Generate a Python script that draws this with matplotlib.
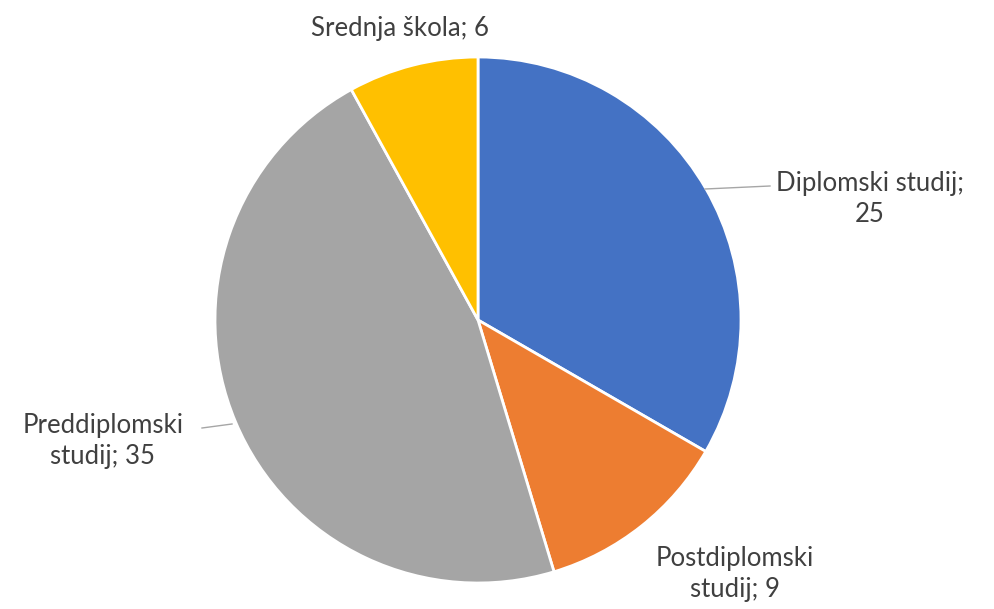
import matplotlib
matplotlib.use("Agg")
import matplotlib.pyplot as plt

categories = ["Diplomski studij", "Postdiplomski studij", "Preddiplomski studij", "Srednja škola"]
values = [25, 9, 35, 6]
label_texts = ["Diplomski studij;\n25", "Postdiplomski\nstudij; 9", "Preddiplomski\nstudij; 35", "Srednja škola; 6"]
colors = ["#4472C4", "#ED7D31", "#A5A5A5", "#FFC000"]

W, H = 995, 609
cx, cy, R = 478, 320, 263

fig = plt.figure(figsize=(W / 100, H / 100), dpi=100)
ax = fig.add_axes([(cx - R) / W, (H - cy - R) / H, 2 * R / W, 2 * R / H])
ax.pie(values, colors=colors, startangle=90, counterclock=False, radius=1,
       wedgeprops=dict(edgecolor="white", linewidth=2))
ax.set_xlim(-1, 1)
ax.set_ylim(-1, 1)
ax.set_aspect("equal")
ax.axis("off")

def d(px, py):
    return ((px - cx) / R, (cy - py) / R)

txt = dict(fontsize=18.5, color="#404040", family=["Lato", "DejaVu Sans"],
           ha="center", va="center", linespacing=1.3)
positions = [d(870, 199), d(735, 574), d(103, 441), d(400, 28)]
for (x, y), t in zip(positions, label_texts):
    ax.text(x, y, t, clip_on=False, **txt)

# leader lines
for (p0, p1) in [((705, 189), (770, 186)), ((202, 428), (232, 424))]:
    a, b = d(*p0), d(*p1)
    ax.plot([a[0], b[0]], [a[1], b[1]], color="#A6A6A6", lw=1, clip_on=False)

fig.savefig("out.png", dpi=100, facecolor="white")
